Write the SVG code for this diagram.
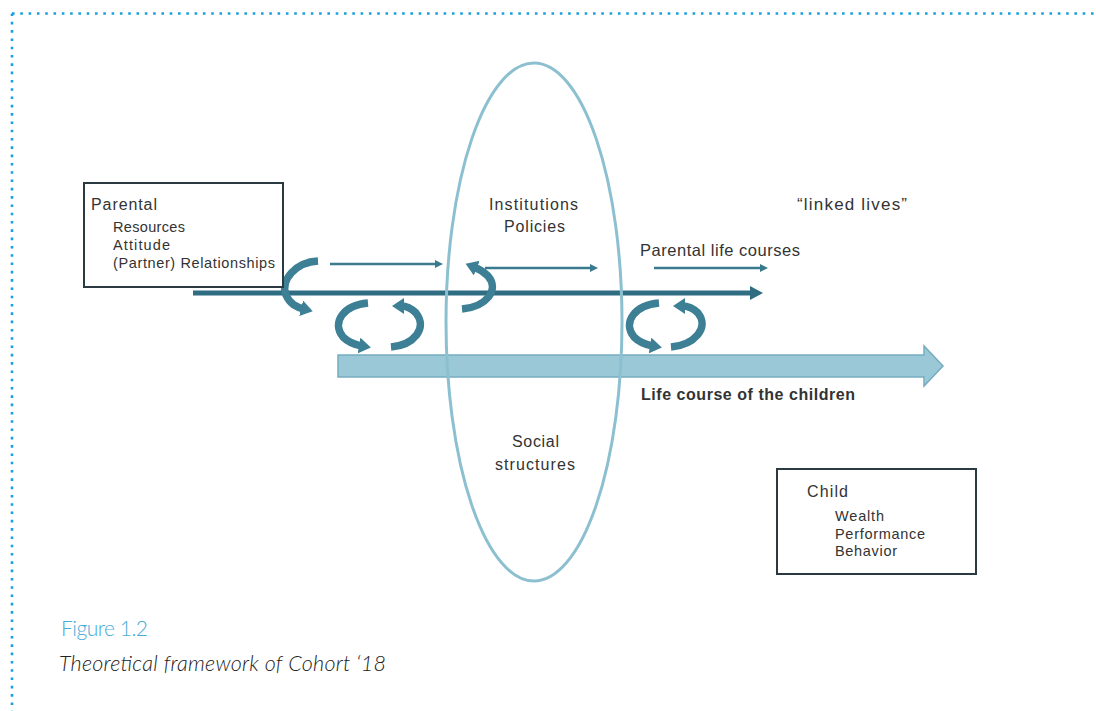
<svg xmlns="http://www.w3.org/2000/svg" width="1096" height="711" viewBox="0 0 1096 711">
<style>
.t{font-family:"Liberation Sans",Arial,sans-serif;fill:#333;}
.box{fill:#fff;stroke:#2b3a40;stroke-width:2;}
.thin{stroke:#3a7a8f;stroke-width:2.5;fill:none;}
.rib{stroke:#3d7f94;stroke-width:7.5;fill:none;}
.dot{stroke:#1aa0dc;stroke-width:2.6;stroke-dasharray:2.6 5.7;fill:none;}
</style>
<defs>
<marker id="ah" markerUnits="userSpaceOnUse" markerWidth="10" markerHeight="10" refX="1" refY="4" orient="auto"><path d="M0,0 L8,4 L0,8 Z" fill="#3a7a8f"/></marker>
<marker id="ahb" markerUnits="userSpaceOnUse" markerWidth="16" markerHeight="16" refX="2" refY="7" orient="auto"><path d="M0,0 L13,7 L0,14 Z" fill="#2f6d82"/></marker>
<marker id="ahr" markerUnits="userSpaceOnUse" markerWidth="18" markerHeight="18" refX="3" refY="8" orient="auto"><path d="M0,0 L12,8 L0,16 Z" fill="#3d7f94"/></marker>
</defs>
<rect width="1096" height="711" fill="#fff"/>
<g id="border">
<line class="dot" x1="12" y1="13.5" x2="1096" y2="13.5"/>
<line class="dot" x1="12" y1="13.5" x2="12" y2="711"/>
</g>
<g id="connectors">
<path d="M338,355 H924 V346 L943,366 L924,386 V377 H338 Z" fill="#9ac8d6" stroke="#75adc0" stroke-width="1.5"/>
<line x1="193" y1="293" x2="752" y2="293" stroke="#2f6d82" stroke-width="5" marker-end="url(#ahb)"/>
<line class="thin" x1="330" y1="264" x2="436" y2="264" marker-end="url(#ah)"/>
<line class="thin" x1="485" y1="268" x2="591" y2="268" marker-end="url(#ah)"/>
<line class="thin" x1="654" y1="268" x2="761" y2="268" marker-end="url(#ah)"/>
<path class="rib" d="M318,261 C296,262 280,280 286,295 C290,304 296,307 304,309" marker-end="url(#ahr)"/>
<path class="rib" d="M368,303 C344,305 331,322 343,337 C349,343 356,345 362,346" marker-end="url(#ahr)"/>
<path class="rib" d="M391,347 C414,345 428,328 416,313 C411,308 406,306 401,306" marker-end="url(#ahr)"/>
<path class="rib" d="M462,309 C486,307 500,290 488,276 C484,272 479,269 474,267" marker-end="url(#ahr)"/>
<path class="rib" d="M659,303 C635,305 622,322 634,337 C640,343 647,345 653,346" marker-end="url(#ahr)"/>
<path class="rib" d="M671,347 C694,345 710,328 698,313 C693,308 688,306 682,306" marker-end="url(#ahr)"/>
</g>
<g id="ellipse">
<ellipse cx="534" cy="322" rx="88" ry="259" fill="none" stroke="#8cc0d1" stroke-width="3"/>
<text class="t" x="489" y="210" font-size="16" textLength="89">Institutions</text>
<text class="t" x="504" y="232" font-size="16" textLength="61">Policies</text>
<text class="t" x="512" y="447" font-size="16" textLength="47">Social</text>
<text class="t" x="495" y="470" font-size="16" textLength="80">structures</text>
</g>
<g id="parental">
<rect class="box" x="84" y="183" width="199" height="104"/>
<text class="t" x="91" y="210" font-size="16" textLength="66">Parental</text>
<text class="t" x="113" y="232" font-size="14.5" textLength="72">Resources</text>
<text class="t" x="113" y="250" font-size="14.5" textLength="57">Attitude</text>
<text class="t" x="113" y="268" font-size="14.5" textLength="162">(Partner) Relationships</text>
</g>
<g id="labels">
<text class="t" x="797" y="210" font-size="17" textLength="110">“linked lives”</text>
<text class="t" x="640" y="256" font-size="16.5" textLength="160">Parental life courses</text>
<text class="t" x="641" y="400" font-size="16" font-weight="bold" fill="#111" textLength="214">Life course of the children</text>
</g>
<g id="child">
<rect class="box" x="777" y="469" width="199" height="105"/>
<text class="t" x="807" y="497" font-size="16" textLength="41">Child</text>
<text class="t" x="835" y="521" font-size="14.5" textLength="49">Wealth</text>
<text class="t" x="835" y="539" font-size="14.5" textLength="90">Performance</text>
<text class="t" x="835" y="556" font-size="14.5" textLength="62">Behavior</text>
</g>
<g id="caption">
<text x="61" y="636" font-family="Lato,'Liberation Sans',sans-serif" font-weight="300" font-size="21" fill="#4aabd5" textLength="87">Figure 1.2</text>
<text x="59" y="671" font-family="Lato,'Liberation Sans',sans-serif" font-weight="300" font-style="italic" font-size="21.5" fill="#222" textLength="327">Theoretical framework of Cohort ‘18</text>
</g>
</svg>
